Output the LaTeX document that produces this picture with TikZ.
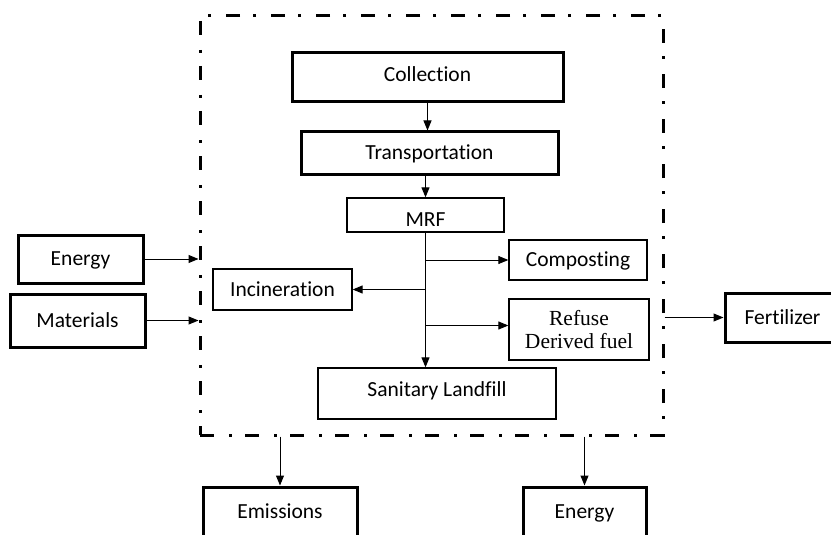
\documentclass[tikz,border=0pt]{standalone}
\usepackage{fontspec}
\setmainfont[Ligatures=CommonOff]{Carlito}
\newfontfamily\serifbox{Liberation Serif}
\usepackage{tikz}
\usetikzlibrary{arrows.meta, positioning, calc}
\tikzset{
  capmid/.style={text height=13.6pt, text depth=0pt},
  thickbox/.style={draw, line width=3pt, inner sep=0pt, align=center, capmid},
  thinbox/.style={draw, line width=1.3pt, inner sep=0pt, align=center, capmid},
  thinpara/.style={draw, line width=1.3pt, inner sep=0pt, align=center},
  flow/.style={line width=1pt, -{Triangle[length=10pt,width=8pt]}}
}

\begin{document}
\begin{tikzpicture}[x=1pt, y=-1pt, font=\fontsize{21.5}{26}\selectfont]
  \useasboundingbox (0,0) rectangle (831,535);
  \clip (0,0) rectangle (831,535);

  % system boundary
  \node[draw, line width=3pt, dash pattern=on 14pt off 15pt on 3pt off 13pt,
        minimum width=463pt, minimum height=419pt, inner sep=0pt] (sys) at (431.5,225.5) {};

  % chain inside the boundary
  \node[thickbox, minimum width=271pt, minimum height=49pt] (coll) at (427.5,77.5) {\raisebox{2.5pt}{Collection}};
  \node[thickbox, minimum width=257pt, minimum height=42pt] (trans) at (429.5,153) {Transportation};
  \node[thinbox, minimum width=157pt, minimum height=34pt] (mrf) at (425.5,215) {\raisebox{-4.5pt}{MRF}};
  \node[thinbox, minimum width=138pt, minimum height=40pt] (comp) at (578,260) {Composting};
  \node[thinbox, minimum width=139pt, minimum height=41pt] (inc) at (282.5,289.5) {Incineration};
  \node[thinpara, minimum width=140pt, minimum height=61pt, font=\serifbox\fontsize{21.5}{26}\selectfont] (rdf) at (579,329.5) {\raisebox{-3pt}{Refuse}\\Derived fuel};
  \node[thinbox, minimum width=238pt, minimum height=51pt] (land) at (437,393.5) {\raisebox{3.5pt}{Sanitary Landfill}};

  % inputs and outputs
  \node[thickbox, minimum width=125pt, minimum height=48pt] (enin) at (80.5,259) {Energy};
  \node[thickbox, minimum width=135pt, minimum height=53pt] (mat) at (77.5,320.5) {Materials};
  \node[thickbox, minimum width=115pt, minimum height=49pt] (fert) at (782.5,317.5) {Fertilizer};
  \node[thickbox, minimum width=154pt, minimum height=50pt] (emis) at (280,512) {Emissions};
  \node[thickbox, minimum width=123pt, minimum height=50pt] (enout) at (584.5,512) {Energy};

  \draw[flow] (coll.south) -- (coll.south |- trans.north);
  \draw[flow] (mrf.north |- trans.south) -- (mrf.north);
  \draw[flow] (mrf.south) -- (mrf.south |- land.north);
  \draw[flow] (mrf.south |- comp.west) -- (comp.west);
  \draw[flow] (mrf.south |- inc.east) -- (inc.east);
  \draw[flow] ($(mrf.south |- rdf.west)+(0,-4)$) -- ([yshift=4pt]rdf.west);

  \draw[flow] (enin.east) -- (sys.west |- enin.east);
  \draw[flow] (mat.east) -- (sys.west |- mat.east);
  \draw[flow] (sys.east |- fert.west) -- (fert.west);
  \draw[flow] (emis.north |- sys.south) -- (emis.north);
  \draw[flow] (enout.north |- sys.south) -- (enout.north);
\end{tikzpicture}
\end{document}
